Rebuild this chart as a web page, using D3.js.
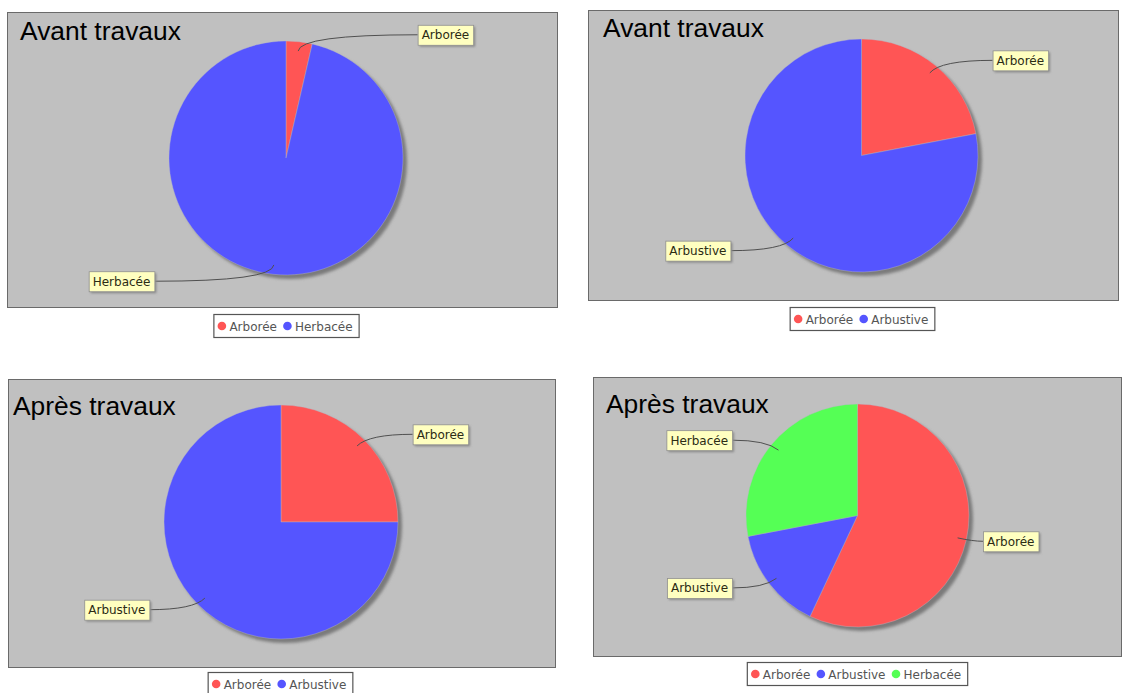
<!DOCTYPE html>
<html>
<head>
<meta charset="utf-8">
<script src="https://cdn.jsdelivr.net/npm/d3@7"></script>
<style>
  html, body { margin: 0; padding: 0; background: #ffffff; }
  svg { display: block; }
</style>
</head>
<body>
<svg id="chart" width="1124" height="693"></svg>
<script>
// ---------- DATA ----------
const panelTitles = ["Avant travaux", "Avant travaux", "Après travaux", "Après travaux"];

const categories1 = ["Arborée", "Herbacée"];
const values1 = [3.6, 96.4];

const categories2 = ["Arborée", "Arbustive"];
const values2 = [22, 78];

const categories3 = ["Arborée", "Arbustive"];
const values3 = [25, 75];

const categories4 = ["Arborée", "Arbustive", "Herbacée"];
const values4 = [57, 15, 28];

const seriesColors = ["#ff5555", "#5555ff", "#55ff55"];

// ---------- LAYOUT ----------
const layout = [
  { plot: [7, 12, 550, 295],   cx: 286,   cy: 158,   r: 117,   title: [20, 40],  legendCx: 286, legendY: 314 },
  { plot: [588, 10, 530, 290], cx: 861.5, cy: 155.5, r: 116.5, title: [603, 37], legendCx: 862, legendY: 307 },
  { plot: [8, 379, 547, 288],  cx: 281,   cy: 522,   r: 117,   title: [13, 415], legendCx: 280, legendY: 672 },
  { plot: [593, 377, 528, 279],cx: 857.5, cy: 515.5, r: 111.5, title: [606, 413],legendCx: 857, legendY: 662 }
];

const panels = [
  { cats: categories1, vals: values1 },
  { cats: categories2, vals: values2 },
  { cats: categories3, vals: values3 },
  { cats: categories4, vals: values4 }
];

const svg = d3.select("#chart");
const defs = svg.append("defs");
defs.append("filter").attr("id", "blur").attr("x", "-10%").attr("y", "-10%").attr("width", "120%").attr("height", "120%")
  .append("feGaussianBlur").attr("stdDeviation", 1.6);
defs.append("filter").attr("id", "blurS").attr("x", "-20%").attr("y", "-20%").attr("width", "140%").attr("height", "140%")
  .append("feGaussianBlur").attr("stdDeviation", 0.8);

panels.forEach((p, i) => {
  const L = layout[i];
  const g = svg.append("g");
  const [px, py, pw, ph] = L.plot;

  // plot background
  g.append("rect").attr("x", px + 0.5).attr("y", py + 0.5).attr("width", pw).attr("height", ph)
    .attr("fill", "#c0c0c0").attr("stroke", "#6a6a6a").attr("stroke-width", 1);

  // pie
  const pie = d3.pie().sort(null).value(d => d.v);
  const arcsData = pie(p.cats.map((c, k) => ({ c, v: p.vals[k], k })));
  const arc = d3.arc().innerRadius(0).outerRadius(L.r);

  // shadow
  g.append("circle").attr("cx", L.cx + 4).attr("cy", L.cy + 4).attr("r", L.r)
    .attr("fill", "#7a7a7a").attr("filter", "url(#blur)");

  const pg = g.append("g").attr("transform", `translate(${L.cx},${L.cy})`);
  pg.selectAll("path").data(arcsData).enter().append("path")
    .attr("d", arc)
    .attr("fill", d => seriesColors[d.data.k])
    .attr("stroke", "#b8b8c8").attr("stroke-width", 0.4);

  // title
  g.append("text").attr("x", L.title[0]).attr("y", L.title[1])
    .attr("font-family", "'Liberation Sans', Arial, sans-serif").attr("font-size", 26.4)
    .attr("fill", "#000").text(panelTitles[i]);

  // labels
  arcsData.forEach(d => {
    const mid = (d.startAngle + d.endAngle) / 2;
    const s = Math.sin(mid), c = Math.cos(mid);
    const ax = L.cx + 0.92 * L.r * s, ay = L.cy - 0.92 * L.r * c;
    const ex = L.cx + 1.06 * L.r * s, ey = L.cy - 1.06 * L.r * c;
    const right = s >= 0;
    const edgeX = right ? L.cx + 1.125 * L.r : L.cx - 1.125 * L.r;

    const lt = g.append("text").attr("font-family", "'DejaVu Sans', sans-serif").attr("font-size", 12)
      .attr("fill", "#2b2b14").text(d.data.c);
    const tw = lt.node().getComputedTextLength();
    const bw = tw + 8, bh = 20;
    const bx = right ? edgeX : edgeX - bw;
    const by = ey - bh / 2;

    g.insert("path", "text")
      .attr("d", `M${ax},${ay} Q${ex},${ey} ${edgeX},${ey}`)
      .attr("fill", "none").attr("stroke", "#505050").attr("stroke-width", 1);
    g.insert("rect", "text").attr("x", bx + 2).attr("y", by + 2).attr("width", bw).attr("height", bh)
      .attr("fill", "#8a8a8a").attr("filter", "url(#blurS)");
    g.insert("rect", "text").attr("x", bx + 0.5).attr("y", by + 0.5).attr("width", bw).attr("height", bh)
      .attr("fill", "#ffffc0").attr("stroke", "#909090").attr("stroke-width", 0.8);
    lt.attr("x", bx + 4).attr("y", ey + 4.5);
    lt.raise();
  });

  // legend
  const lg = g.append("g");
  const items = [];
  let x = 0;
  p.cats.forEach((c, k) => {
    const t = lg.append("text").attr("font-family", "'DejaVu Sans', sans-serif").attr("font-size", 12)
      .attr("fill", "#555").text(c);
    const w = t.node().getComputedTextLength();
    items.push({ t, w, k, x });
    x += 4 + 9 + 3 + w + 2;
  });
  const lw = x + 4, lh = 23;
  const lx = L.legendCx - lw / 2, ly = L.legendY;
  lg.insert("rect", "text").attr("x", lx + 0.5).attr("y", ly + 0.5).attr("width", lw).attr("height", lh)
    .attr("fill", "#fff").attr("stroke", "#555").attr("stroke-width", 1.2);
  items.forEach(it => {
    lg.append("circle").attr("cx", lx + it.x + 4 + 4.5).attr("cy", ly + lh / 2 + 0.5).attr("r", 4.3)
      .attr("fill", seriesColors[it.k]);
    it.t.attr("x", lx + it.x + 4 + 9 + 3).attr("y", ly + lh / 2 + 5);
  });
});
</script>
</body>
</html>
